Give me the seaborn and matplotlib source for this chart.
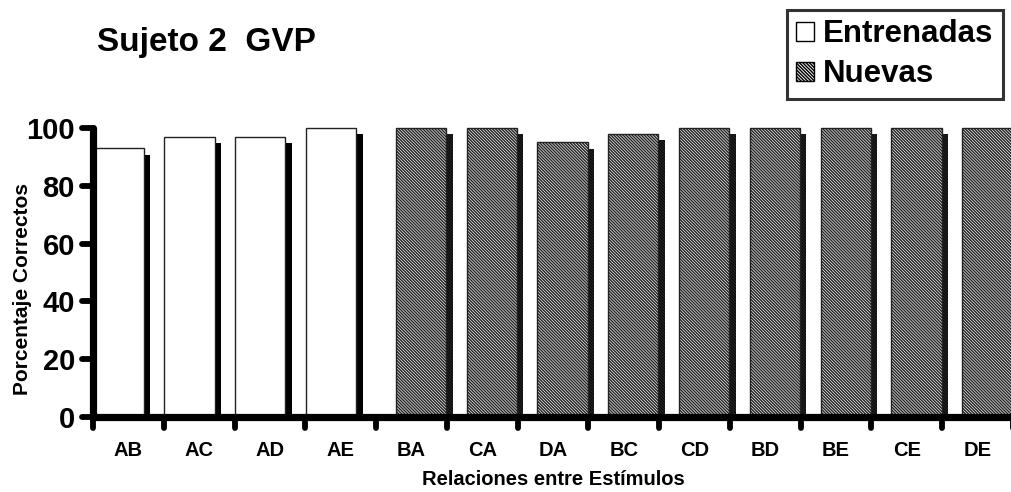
import matplotlib
matplotlib.use("Agg")
import matplotlib.pyplot as plt
import matplotlib.patheffects as pe
from matplotlib.patches import Patch
from matplotlib.markers import MarkerStyle
import seaborn as sns
import pandas as pd

# ---- data ----
relaciones = ["AB", "AC", "AD", "AE", "BA", "CA", "DA", "BC", "CD", "BD", "BE", "CE", "DE"]
tipo = ["Entrenadas"] * 4 + ["Nuevas"] * 9
porcentaje = [93, 97, 97, 100, 100, 100, 95, 98, 100, 100, 100, 100, 100]
yticks = [0, 20, 40, 60, 80, 100]
titulo = "Sujeto 2  GVP"
ylabel = "Porcentaje Correctos"
xlabel = "Relaciones entre Estímulos"

df = pd.DataFrame({"rel": relaciones, "pct": porcentaje, "tipo": tipo})

sns.set_style("white")
plt.rcParams["font.family"] = ["Liberation Sans", "DejaVu Sans"]
plt.rcParams["font.weight"] = "bold"
plt.rcParams["text.color"] = "black"
plt.rcParams["axes.labelcolor"] = "black"
plt.rcParams["xtick.color"] = "black"
plt.rcParams["ytick.color"] = "black"
plt.rcParams["hatch.linewidth"] = 1.05
plt.rcParams["hatch.color"] = "black"

W, H = 1012, 492
fig = plt.figure(figsize=(W / 100, H / 100), dpi=100)
ax = fig.add_axes([93 / W, (H - 417) / H, 920 / W, 292 / H])

BAR_W = 0.71
OFF = 0.135
HATCH = "\\" * 11

sns.barplot(data=df, x="rel", y="pct", hue="tipo", order=relaciones,
            hue_order=["Entrenadas", "Nuevas"], dodge=False, width=BAR_W,
            palette={"Entrenadas": "white", "Nuevas": "white"},
            edgecolor="#222222", linewidth=1.0, legend=False, ax=ax,
            err_kws={"linewidth": 0})

shadow = [pe.SimplePatchShadow(offset=(4.6, -4.6), shadow_rgbFace="black", alpha=1.0),
          pe.Normal()]
for cont, off, hatch in zip(ax.containers, (-OFF, OFF), (None, HATCH)):
    for p in cont:
        p.set_x(p.get_x() + off)
        if hatch:
            p.set_hatch(hatch)
        p.set_path_effects(shadow)

ax.set_xlim(-0.5, len(relaciones) - 0.5)
ax.set_ylim(0, 101)

for s in ("top", "right"):
    ax.spines[s].set_visible(False)
for s in ("left", "bottom"):
    ax.spines[s].set_linewidth(5.2)
    ax.spines[s].set_color("black")
    ax.spines[s].set_capstyle("round")
ax.spines["left"].set_bounds(0, 100)

# y ticks
ax.set_yticks(yticks)
ax.set_yticklabels([str(v) for v in yticks], fontsize=21, fontweight="bold")
ax.tick_params(axis="y", direction="out", length=8, width=4.2, pad=5, color="black", left=True)

# x ticks: boundaries as major ticks, labels at centers as minor ticks
n = len(relaciones)
ax.set_xticks([i - 0.5 for i in range(n + 1)])
ax.set_xticklabels([""] * (n + 1))
ax.set_xticks(list(range(n)), minor=True)
ax.set_xticklabels(relaciones, minor=True, fontsize=14.5, fontweight="bold")
ax.tick_params(axis="x", which="major", direction="out", length=8, width=4.2, color="black", bottom=True)
ax.tick_params(axis="x", which="minor", length=0, pad=17, bottom=True)

for t in ax.xaxis.get_major_ticks() + ax.yaxis.get_major_ticks():
    ln = t.tick1line
    ln.set_marker(MarkerStyle(ln.get_marker(), capstyle="round"))

ax.set_xlabel(xlabel, fontsize=14.5, fontweight="bold")
ax.xaxis.set_label_coords(0.5, -0.18)
ax.set_ylabel(ylabel, fontsize=15, fontweight="bold")
ax.yaxis.set_label_coords(-0.066, 0.44)

fig.text(97 / W, 1 - 43 / H, titulo, fontsize=24, fontweight="bold", ha="left", va="center")

handles = [Patch(facecolor="white", edgecolor="black", linewidth=1.0),
           Patch(facecolor="white", edgecolor="black", linewidth=1.0, hatch="\\" * 10)]
leg = fig.legend(handles, ["Entrenadas", "Nuevas"], loc="upper left",
                 bbox_to_anchor=(787 / W, 1 - 10 / H), frameon=True, fancybox=False,
                 prop={"size": 22.5, "weight": "bold"}, handlelength=0.58, handleheight=0.58,
                 handletextpad=0.28, labelspacing=0.32, borderpad=0.3, borderaxespad=0)
leg.get_frame().set_edgecolor("black")
leg.get_frame().set_linewidth(2.2)

fig.savefig("out.png", dpi=100)
